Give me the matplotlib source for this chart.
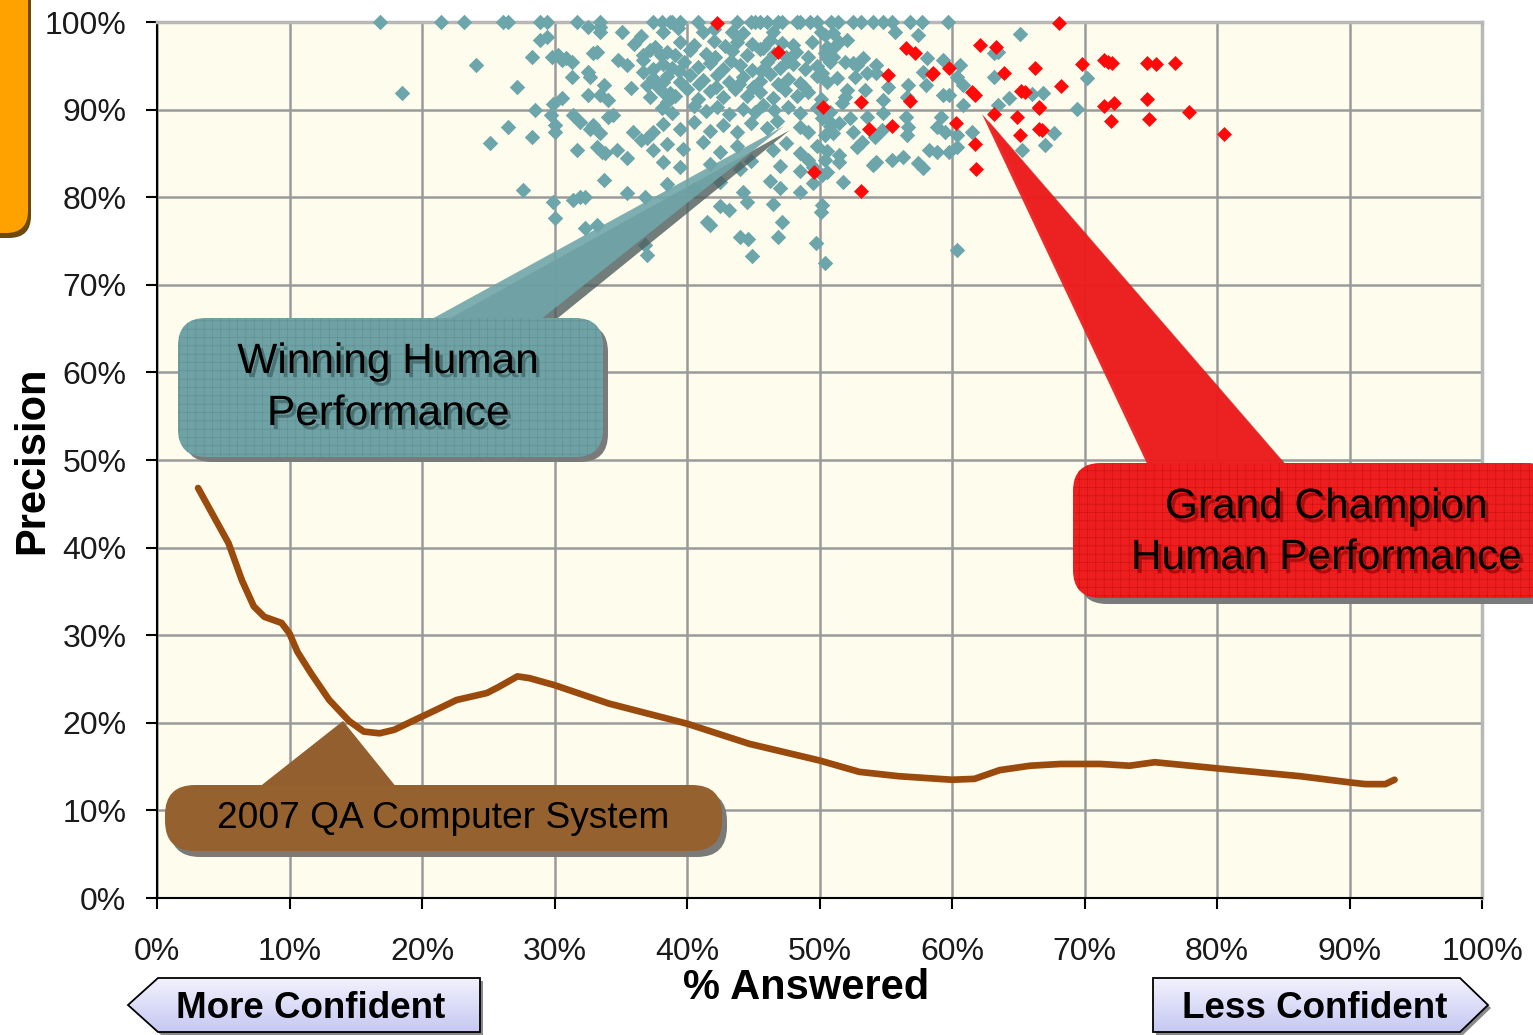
import numpy as np
import matplotlib
matplotlib.use("Agg")
import matplotlib.pyplot as plt
from matplotlib.patches import FancyBboxPatch, Polygon
from matplotlib.colors import LinearSegmentedColormap
import matplotlib.patheffects as pe

plt.rcParams['font.family'] = ['Liberation Sans', 'DejaVu Sans']
plt.rcParams['hatch.linewidth'] = 0.4

# ---------------- data ----------------
x_ticks = [0, 10, 20, 30, 40, 50, 60, 70, 80, 90, 100]
x_tick_labels = ['0%', '10%', '20%', '30%', '40%', '50%', '60%', '70%', '80%', '90%', '100%']
y_ticks = [0, 10, 20, 30, 40, 50, 60, 70, 80, 90, 100]
y_tick_labels = ['0%', '10%', '20%', '30%', '40%', '50%', '60%', '70%', '80%', '90%', '100%']

# Winning human performance (teal) - % answered / precision
human_top_x = [16.8, 21.4, 23.2, 26.1, 26.5, 28.9, 29.4, 31.7, 33.4, 37.4, 38.1, 38.7, 38.9, 39.5,
               40.8, 43.8, 44.8, 45.1, 45.5, 46.0, 46.9, 47.2, 48.3, 48.5, 49.3, 49.8, 50.9, 51.4,
               52.5, 53.1, 54.0, 54.8, 55.5, 56.8, 57.7, 59.7]
human_top_y = [100] * len(human_top_x)

human_x = [
    32.5, 33.4, 33.4, 35.1, 36.5, 29.4, 38.2, 41.2, 43.4, 44.2, 46.5, 50.1, 51.0, 55.7, 57.4, 50.4, 65.1, 39.3, 42.0,
    28.9, 37.6, 39.5, 40.5, 42.0, 42.9, 43.8, 44.9, 46.3, 48.0, 49.4, 50.6, 51.5, 52.1, 51.0, 36.0, 45.7, 47.2,
    38.5, 39.1, 40.2, 41.4, 42.1, 43.4, 44.5, 45.5, 46.6, 48.2, 49.1, 50.4, 51.0, 28.3, 29.8, 30.3, 30.6, 30.9,
    32.9, 33.2, 34.8, 36.7, 38.0, 50.6, 58.1, 63.2, 63.5, 37.2, 47.5,
    38.2, 38.9, 39.8, 40.8, 41.7, 42.7, 44.0, 44.9, 46.0, 47.0, 48.0, 48.9, 49.8, 50.8, 31.3, 35.5, 36.7, 51.9,
    52.5, 52.8, 53.3, 54.3, 59.3, 60.6, 37.4, 39.4, 43.3, 45.6, 47.6, 24.1,
    38.5, 39.5, 40.2, 41.2, 42.3, 43.2, 44.2, 45.5, 46.3, 47.6, 48.5, 49.8, 50.6, 51.3, 31.3, 32.5, 32.7, 36.7,
    27.2, 50.2, 52.7, 53.6, 54.3, 55.2, 56.7, 57.8, 58.0, 60.4, 60.8, 63.2, 70.2, 37.4, 37.8, 38.2, 40.9, 43.9, 46.9,
    38.2, 39.1, 40.0, 40.8, 41.7, 42.7, 43.6, 44.5, 45.5, 46.5, 47.4, 48.3, 49.1, 50.1, 33.4, 34.0, 33.7, 35.8,
    37.0, 30.6, 32.5, 18.5, 52.1, 51.9, 53.4, 51.7, 54.8, 56.6, 59.3, 59.8, 60.8, 64.3, 66.0, 66.9, 63.5, 69.4,
    38.7, 37.2, 38.5, 42.2, 45.0, 48.8,
    38.1, 38.9, 40.5, 41.4, 42.3, 43.2, 44.2, 45.1, 45.7, 46.6, 47.6, 48.5, 49.8, 50.8, 28.5, 29.7, 29.9, 50.2,
    50.8, 51.5, 52.3, 53.6, 54.8, 56.5, 59.2,
    38.2, 39.5, 40.5, 41.7, 42.7, 43.8, 44.8, 46.0, 46.8, 48.5, 49.1, 50.8, 26.5, 28.3, 30.0, 30.0, 31.4, 31.9,
    32.7, 32.9, 33.4, 34.0, 34.4, 35.9, 36.5, 37.0, 37.4, 50.4, 51.0, 52.5, 53.2, 54.2, 54.7, 56.7, 56.6, 58.9,
    59.5, 60.4, 61.5, 67.7,
    38.5, 39.7, 41.2, 42.5, 43.8, 46.5, 47.5, 48.5, 49.8, 50.6, 31.7, 33.2, 33.6, 33.8, 34.7, 35.5, 37.4, 25.1,
    50.4, 51.5, 51.5, 52.8, 58.3, 58.9, 59.8, 60.4, 67.0, 65.3,
    38.2, 39.5, 41.7, 44.0, 44.8, 47.0, 48.5, 49.1, 49.5, 50.6, 54.0, 54.3, 55.5, 56.3, 57.4, 57.8, 50.2,
    38.5, 40.5, 42.5, 44.2, 46.3, 47.0, 48.5, 49.5, 33.7, 27.6, 35.5, 51.8,
    42.5, 43.2, 44.5, 46.5, 50.1, 29.9, 31.4, 31.9, 32.3, 36.8, 50.2,
    41.5, 41.7, 47.2, 30.0, 32.3, 33.2,
    44.0, 44.6, 46.9, 49.7, 44.9, 50.4, 36.8, 37.0, 60.4,
]
human_y = [
    99.4, 99.4, 98.9, 98.9, 98.4, 98.3, 98.9, 98.9, 98.9, 98.7, 98.9, 98.9, 98.7, 98.9, 98.5, 98.5, 98.6, 99.3, 99.2,
    97.9, 97.2, 97.7, 97.4, 97.8, 97.3, 97.7, 97.5, 97.9, 97.4, 97.7, 97.2, 97.7, 97.9, 97.0, 97.5, 97.0, 97.6,
    96.6, 96.2, 96.8, 96.4, 96.0, 96.7, 96.2, 96.9, 96.3, 96.6, 96.0, 96.5, 96.0, 96.0, 96.0, 96.2, 95.7, 95.9,
    96.5, 96.6, 95.7, 96.2, 96.2, 95.9, 95.9, 96.5, 96.6, 96.8, 96.0,
    95.2, 94.7, 95.4, 94.9, 95.3, 94.6, 95.1, 94.5, 95.4, 94.8, 95.2, 94.6, 95.0, 95.4, 95.4, 95.1, 95.7, 95.4,
    95.3, 95.1, 95.9, 95.1, 95.7, 95.1, 94.6, 94.4, 95.6, 94.4, 95.6, 95.1,
    93.8, 93.2, 94.0, 93.4, 93.9, 93.1, 93.7, 93.3, 94.1, 93.5, 93.0, 93.8, 93.2, 93.6, 93.7, 94.3, 93.7, 94.3,
    92.6, 94.2, 93.7, 94.2, 94.2, 92.6, 92.8, 94.3, 92.8, 93.7, 92.8, 93.7, 93.6, 93.6, 92.6, 93.2, 92.9, 92.9, 92.9,
    92.0, 91.5, 92.3, 91.2, 92.1, 91.4, 92.4, 91.6, 92.0, 91.3, 92.2, 91.5, 92.0, 91.2, 91.7, 91.1, 92.8, 92.5,
    92.8, 91.3, 91.7, 91.9, 92.2, 91.4, 92.2, 90.8, 91.1, 91.4, 91.7, 91.7, 90.5, 91.3, 91.8, 91.9, 90.5, 90.1,
    91.9, 91.4, 90.9, 92.6, 92.6, 92.6,
    90.2, 89.6, 90.4, 89.8, 90.3, 89.5, 90.1, 89.7, 90.5, 89.9, 90.3, 89.6, 90.2, 89.7, 90.0, 89.4, 90.6, 89.0,
    88.6, 88.5, 89.0, 89.2, 89.6, 89.2, 89.2,
    88.4, 87.8, 88.6, 87.6, 88.2, 87.5, 88.5, 87.9, 88.7, 88.0, 87.4, 88.1, 88.0, 86.9, 88.2, 87.4, 89.4, 88.6,
    87.8, 88.2, 87.3, 89.2, 89.4, 87.4, 86.5, 86.8, 87.4, 87.1, 87.3, 87.4, 86.3, 86.9, 87.7, 88.0, 87.1, 88.0,
    87.4, 87.1, 87.4, 87.3,
    86.1, 85.5, 86.3, 85.2, 85.9, 85.4, 86.2, 85.0, 85.8, 85.3, 85.4, 85.7, 85.2, 85.0, 85.4, 84.5, 85.4, 86.2,
    84.2, 84.8, 84.0, 85.7, 85.4, 85.2, 85.2, 85.7, 86.0, 85.4,
    84.0, 83.4, 83.8, 83.2, 84.1, 83.6, 83.0, 84.2, 83.5, 82.9, 83.7, 84.0, 84.2, 84.6, 83.9, 83.3, 82.5,
    81.5, 80.9, 81.7, 80.6, 81.9, 81.0, 80.6, 81.6, 82.0, 80.8, 80.5, 81.7,
    79.0, 78.5, 79.5, 79.2, 78.3, 79.5, 79.7, 80.0, 80.0, 80.0, 79.1,
    77.2, 76.8, 77.2, 77.6, 76.5, 76.8,
    75.5, 75.2, 75.5, 74.8, 73.3, 72.5, 74.5, 73.4, 74.0,
]

# Grand champion human performance (red)
champ_x = [42.3, 46.9, 50.3, 49.6, 53.1, 53.7, 53.1, 55.2, 55.5, 56.5, 57.2, 56.8, 58.5, 58.6, 59.8, 60.3,
           61.5, 61.7, 61.7, 61.8, 62.1, 63.3, 63.9, 63.2, 64.9, 65.1, 65.2, 65.5, 66.3, 68.2, 66.6, 66.6,
           66.6, 66.8, 68.1, 69.8, 71.5, 71.8, 72.1, 71.5, 72.2, 72.0, 74.7, 75.4, 76.8, 74.7, 74.9, 77.9, 80.5]
champ_y = [99.9, 96.6, 90.3, 82.9, 90.9, 87.8, 80.7, 94.0, 88.1, 97.0, 96.5, 91.0, 94.1, 94.2, 94.7, 88.5,
           92.0, 91.7, 86.1, 83.2, 97.4, 97.1, 94.2, 89.5, 89.2, 87.1, 92.1, 92.0, 94.7, 92.7, 90.2, 90.3,
           87.8, 87.7, 99.9, 95.2, 95.7, 95.4, 95.3, 90.4, 90.8, 88.7, 95.3, 95.2, 95.3, 91.2, 88.9, 89.7, 87.2]

# 2007 QA computer system curve
qa_x = [3.1, 5.4, 6.4, 7.3, 8.1, 9.4, 10.0, 10.6, 11.6, 13.0, 14.5, 15.6, 16.8, 17.9, 19.7, 21.1, 22.6,
        24.9, 25.8, 27.2, 28.1, 30.0, 34.1, 40.0, 44.7, 50.0, 53.0, 56.0, 60.0, 61.7, 63.6, 65.9, 68.2,
        71.2, 73.4, 75.3, 80.0, 86.3, 90.0, 91.2, 92.7, 93.4]
qa_y = [46.8, 40.5, 36.3, 33.3, 32.1, 31.4, 30.2, 28.1, 25.7, 22.6, 20.2, 19.0, 18.8, 19.2, 20.5, 21.5, 22.6,
        23.4, 24.1, 25.3, 25.1, 24.3, 22.2, 19.9, 17.6, 15.7, 14.4, 13.9, 13.5, 13.6, 14.6, 15.1, 15.3,
        15.3, 15.1, 15.5, 14.8, 13.9, 13.2, 13.0, 13.0, 13.5]

# ---------------- figure ----------------
W, H = 1533, 1035
fig = plt.figure(figsize=(W / 100, H / 100), dpi=100)
fig.patch.set_facecolor('white')

ax = fig.add_axes([157 / W, (H - 898) / H, (1482 - 157) / W, (898 - 22) / H])
ax.set_xlim(0, 100)
ax.set_ylim(0, 100)
ax.set_facecolor('#FEFCEC')
ax.set_xticks(x_ticks)
ax.set_xticklabels(x_tick_labels)
ax.set_yticks(y_ticks)
ax.set_yticklabels(y_tick_labels)
ax.grid(True, color='#9A9A9A', lw=1.8)
ax.set_axisbelow(True)
for s in ['top', 'right']:
    ax.spines[s].set_color('#B8B8B8')
    ax.spines[s].set_linewidth(2.5)
for s in ['left', 'bottom']:
    ax.spines[s].set_color('black')
    ax.spines[s].set_linewidth(1.5)
ax.tick_params(axis='both', direction='out', length=8, width=1.5, colors='black',
               labelsize=23, labelcolor='#1a1a1a')
ax.tick_params(axis='y', pad=14)
ax.tick_params(axis='x', pad=20)

ax.scatter(human_x + human_top_x, human_y + human_top_y, marker='D', s=62,
           c='#6CA5AA', linewidths=0, clip_on=False, zorder=3)
ax.scatter(champ_x, champ_y, marker='D', s=58, c='#FF0A0A', linewidths=0,
           clip_on=False, zorder=4)
ax.plot(qa_x, qa_y, color='#9A4A0C', lw=4.8, solid_capstyle='round',
        solid_joinstyle='round', zorder=5)

# ---------------- overlay in pixel coordinates ----------------
ov = fig.add_axes([0, 0, 1, 1], zorder=5)
ov.set_xlim(0, W)
ov.set_ylim(H, 0)
ov.axis('off')
ov.patch.set_alpha(0)


def rbox(x0, y0, x1, y1, r, fc, z, **kw):
    p = FancyBboxPatch((x0, y0), x1 - x0, y1 - y0,
                       boxstyle='round,pad=0,rounding_size=%g' % r,
                       fc=fc, zorder=z, **kw)
    ov.add_patch(p)
    return p


def poly(pts, fc, z, **kw):
    p = Polygon(pts, closed=True, fc=fc, ec='none', zorder=z, **kw)
    ov.add_patch(p)
    return p


shadow_fx = lambda c: [pe.SimplePatchShadow(offset=(2.5, -3), shadow_rgbFace=c, alpha=0.55), pe.Normal()]

# orange tab
rbox(-40, -40, 31, 238, 22, '#6B4A10', 1, ec='none')
rbox(-40, -40, 28, 233, 22, '#FFA200', 2, ec='none')

# teal callout
rbox(184, 324, 608, 462, 28, '#7A7A7A', 1, ec='none')
poly([(436, 326), (548, 326), (790, 130)], '#4E5E5E', 2, alpha=0.8)
poly([(430, 320), (540, 320), (784, 126)], '#70A6A9', 3, alpha=0.9)
rbox(178, 318, 603, 457, 28, '#6FA2A5', 4, ec='#5E8D90', hatch='++', lw=0)
ov.text(388, 362, 'Winning Human', ha='center', va='center', fontsize=30.5,
        color='black', zorder=6, path_effects=shadow_fx('#2F4F50'))
ov.text(388, 414, 'Performance', ha='center', va='center', fontsize=30.5,
        color='black', zorder=6, path_effects=shadow_fx('#2F4F50'))

# red callout
rbox(1079, 469, 1560, 604, 28, '#7A7A7A', 1, ec='none')
poly([(1156, 476), (1296, 476), (988, 120)], '#6A1010', 2, alpha=0.5)
poly([(1150, 470), (1290, 470), (982, 114)], '#F01C1C', 3, alpha=0.95)
rbox(1073, 463, 1555, 598, 28, '#EE1E1E', 4, ec='#C81010', hatch='++', lw=0)
ov.text(1326, 507, 'Grand Champion', ha='center', va='center', fontsize=30.5,
        color='black', zorder=6, path_effects=shadow_fx('#7A0000'))
ov.text(1326, 558, 'Human Performance', ha='center', va='center', fontsize=30.5,
        color='black', zorder=6, path_effects=shadow_fx('#7A0000'))

# brown callout
rbox(170, 791, 727, 857, 30, '#7A7A7A', 1, ec='none')
poly([(258, 788), (397, 788), (343, 721)], '#935F2E', 3)
rbox(165, 785, 722, 851, 30, '#95612F', 4, ec='none')
ov.text(443, 819, '2007 QA Computer System', ha='center', va='center', fontsize=26.7,
        color='black', zorder=6)

# axis titles
ov.text(32, 460, 'Precision', rotation=90, ha='center', va='center', fontsize=30,
        fontweight='bold', color='black')
ov.text(806, 988, '% Answered', ha='center', va='center', fontsize=30,
        fontweight='bold', color='black')

# confidence arrows
grad = LinearSegmentedColormap.from_list('lav', ['#F2F2FD', '#C6C8F2'])
g = np.linspace(0, 1, 64).reshape(-1, 1)


def arrow_button(pts, text, cx):
    xs = [p[0] for p in pts]
    poly([(x + 3, y + 3) for x, y in pts], '#8A8A8A', 1)
    p = Polygon(pts, closed=True, fc='none', ec='black', lw=1.3, zorder=3)
    ov.add_patch(p)
    im = ov.imshow(g, cmap=grad, extent=(min(xs), max(xs), 1032, 978), aspect='auto', zorder=2)
    im.set_clip_path(p)
    ov.text(cx, 1008, text, ha='center', va='center', fontsize=26.5,
            fontweight='bold', color='black', zorder=4)


arrow_button([(128, 1005), (158, 978), (480, 978), (480, 1032), (158, 1032)], 'More Confident', 311)
arrow_button([(1153, 978), (1460, 978), (1488, 1005), (1460, 1032), (1153, 1032)], 'Less Confident', 1315)
ov.set_xlim(0, W)
ov.set_ylim(H, 0)

fig.savefig('out.png', dpi=100, facecolor='white')
